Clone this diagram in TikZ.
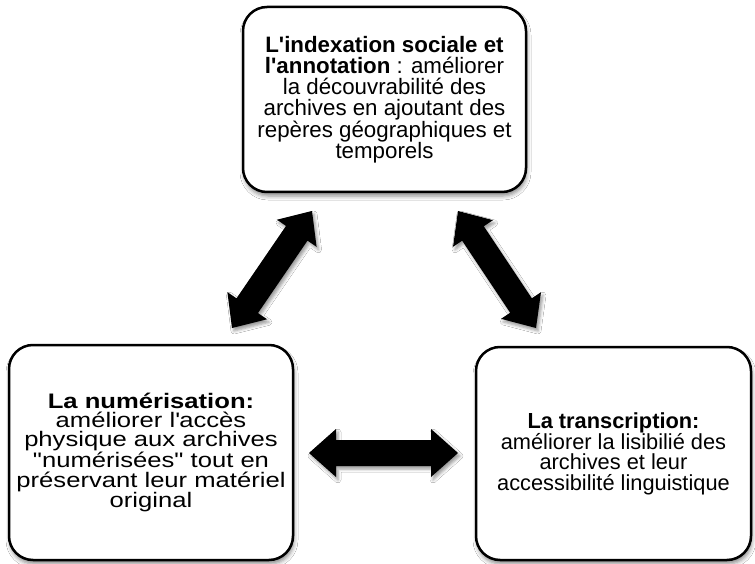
\documentclass[tikz,border=0pt]{standalone}
\usepackage{fontspec}
\setmainfont{Liberation Sans}
\newfontfamily\widefont{Liberation Sans}[FakeStretch=1.22]
\usetikzlibrary{calc,shadows.blur}

% fat double-headed arrow between two named points
\def\headlen{27pt}
\def\headw{24pt}
\def\shaftw{13pt}
\newcommand\fatarrow[2]{%
  \coordinate (h1) at ($(#1)!\headlen!(#2)$);
  \coordinate (h2) at ($(#2)!\headlen!(#1)$);
  \fill[arrowfill] (#1) -- ($(h1)!\headw!90:(#2)$) -- ($(h1)!\shaftw!90:(#2)$)
    -- ($(h2)!\shaftw!-90:(#1)$) -- ($(h2)!\headw!-90:(#1)$) -- (#2)
    -- ($(h2)!\headw!90:(#1)$) -- ($(h2)!\shaftw!90:(#1)$)
    -- ($(h1)!\shaftw!-90:(#2)$) -- ($(h1)!\headw!-90:(#2)$) -- cycle;}

\tikzset{
  box/.style={draw=black, line width=2.5pt, rounded corners=24pt, fill=white,
    align=center, inner sep=4pt,
    blur shadow={shadow xshift=1pt, shadow yshift=-4pt, shadow blur radius=4pt, shadow opacity=45}},
  toptext/.style={font={\fontsize{22.3}{21}\selectfont}},
  righttext/.style={font={\fontsize{21.8}{20.2}\selectfont}},
  widetext/.style={font={\widefont\fontsize{21}{19.3}\selectfont}},
  arrowfill/.style={fill=black,
    blur shadow={shadow xshift=2pt, shadow yshift=-3pt, shadow blur radius=3pt, shadow opacity=40}}
}

\begin{document}
\begin{tikzpicture}[x=1pt, y=-1pt]
  \useasboundingbox[fill=white] (0,0) rectangle (755,564);

  % the three boxes
  \node[box, toptext, minimum width=283pt, minimum height=185pt] (index) at (384.5,99.5)
    {\textbf{L\textquotesingle indexation sociale et}\\
     \textbf{l\textquotesingle annotation} : améliorer\\
     la découvrabilité des\\
     archives en ajoutant des\\
     repères géographiques et\\
     temporels};

  \node[box, widetext, minimum width=284pt, minimum height=215pt] (numer) at (151,452.5)
    {\textbf{La numérisation:}\\
     améliorer l\textquotesingle accès\\
     physique aux archives\\
     "numérisées" tout en\\
     préservant leur matériel\\
     original};

  \node[box, righttext, minimum width=275pt, minimum height=213pt] (transc) at (613.5,453.5)
    {\textbf{La transcription:}\\
     améliorer la lisibilié des\\
     archives et leur\\
     accessibilité linguistique};

  % arrow end points
  \coordinate (a1) at (312,211);
  \coordinate (a2) at (232,328);
  \coordinate (b1) at (458,211);
  \coordinate (b2) at (536,328);
  \coordinate (c1) at (309,453);
  \coordinate (c2) at (458,453);

  \fatarrow{a1}{a2}
  \fatarrow{b1}{b2}
  \fatarrow{c1}{c2}
\end{tikzpicture}
\end{document}
